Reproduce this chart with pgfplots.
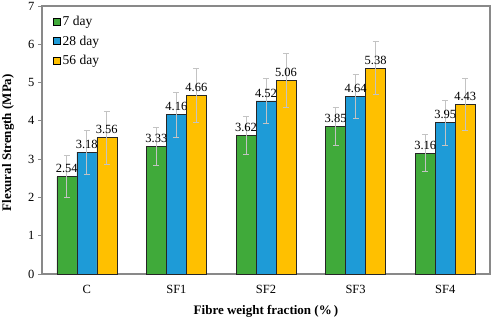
\documentclass[border=0pt]{standalone}
\usepackage{fontspec}
\setmainfont{Liberation Serif}
\usepackage{pgfplots}
\pgfplotsset{compat=1.18}
\definecolor{cgreen}{RGB}{64,170,58}
\definecolor{cblue}{RGB}{30,155,215}
\definecolor{cyellow}{RGB}{255,192,0}
\definecolor{cframe}{RGB}{137,137,137}
\definecolor{cerr}{RGB}{195,195,195}
\begin{document}
\begin{tikzpicture}
\begin{axis}[
 scale only axis, width=448pt, height=268pt,
 xmin=-0.5, xmax=4.5, ymin=0, ymax=7,
 xtick={0,1,2,3,4}, xticklabels={C,SF1,SF2,SF3,SF4},
 ytick={0,1,2,3,4,5,6,7},
 axis line style={cframe, line width=1.6pt},
 ytick style={cframe, line width=0.8pt},
 major tick length=4pt,
 xtick style={draw=none},
 ytick pos=left, tick align=outside,
 ybar, bar width=20pt,
 tick label style={font=\fontsize{12.5}{14}\selectfont},
 /pgf/number format/assume math mode=true,
 xlabel={Fibre weight fraction (\%\,)},
 ylabel={Flexural Strength (MPa)},
 label style={font=\fontsize{13}{15}\selectfont\bfseries},
 xlabel style={at={(axis description cs:0.5,-0.1380)}, anchor=center},
 ylabel style={at={(axis description cs:-0.0759,0.49)}, anchor=center},
 xticklabel style={yshift=-4pt},
 legend style={at={(axis description cs:0.022,0.975)}, anchor=north west, draw=none, fill=none, font=\fontsize{13.5}{15}\selectfont, row sep=5pt, inner sep=1pt},
 legend cell align=left,
 legend image code/.code={\draw[#1, draw=black, line width=0.6pt] (0pt,-3.5pt) rectangle (7pt,3.5pt);},
 nodes near coords,
 every node near coord/.append style={font=\fontsize{12.5}{14}\selectfont, black},
 error bars/y dir=both, error bars/y explicit,
 error bars/error bar style={cerr, line width=0.8pt},
 error bars/error mark options={cerr, rotate=90, mark size=3pt, line width=0.8pt},
 clip=false,
]
\addplot[fill=cgreen, draw=black!85, line width=0.6pt, bar shift=-20pt] coordinates {
 (0,2.54) +- (0,0.55) (1,3.33) +- (0,0.5) (2,3.62) +- (0,0.5) (3,3.85) +- (0,0.5) (4,3.16) +- (0,0.48)};
\addplot[fill=cblue, draw=black!85, line width=0.6pt, bar shift=0pt] coordinates {
 (0,3.18) +- (0,0.58) (1,4.16) +- (0,0.58) (2,4.52) +- (0,0.58) (3,4.64) +- (0,0.57) (4,3.95) +- (0,0.58)};
\addplot[fill=cyellow, draw=black!85, line width=0.6pt, bar shift=20pt] coordinates {
 (0,3.56) +- (0,0.69) (1,4.66) +- (0,0.7) (2,5.06) +- (0,0.7) (3,5.38) +- (0,0.7) (4,4.43) +- (0,0.69)};
\legend{7 day, 28 day, 56 day}
\coordinate (ll) at (rel axis cs:0,0);
\coordinate (ur) at (rel axis cs:1,1);
\end{axis}
\pgfresetboundingbox
\path ([shift={(-42pt,-45pt)}]ll) rectangle ([shift={(1pt,6pt)}]ur);
\end{tikzpicture}
\end{document}
